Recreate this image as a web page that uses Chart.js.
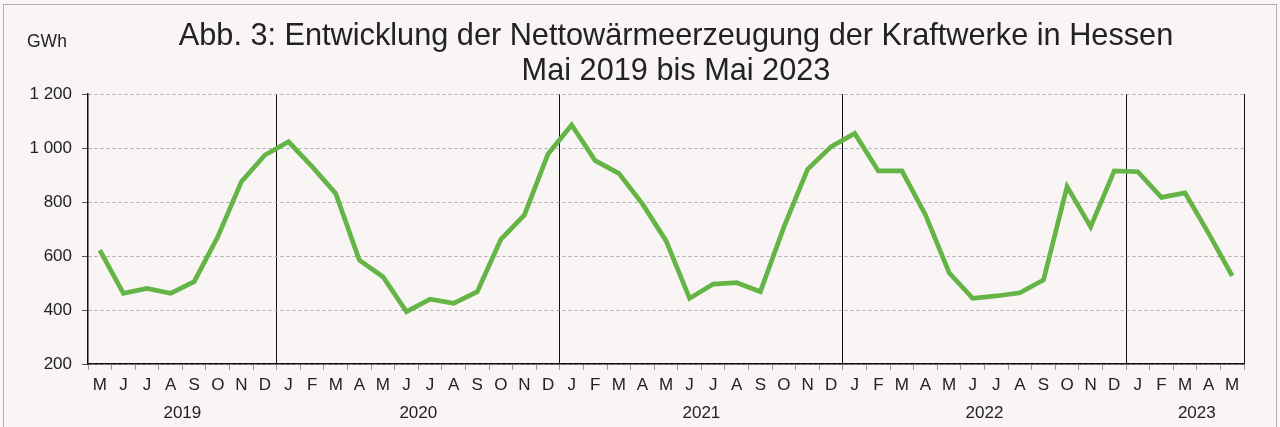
<!DOCTYPE html>
<html>
<head>
<meta charset="utf-8">
<script src="https://cdn.jsdelivr.net/npm/chart.js@4"></script>
<style>
    body{margin:0;background:#fff;}
    #wrap{position:relative;width:1280px;height:427px;background:#f8f5f4;overflow:hidden;}
    #frame{position:absolute;left:3px;top:4px;width:1274px;height:430px;border:1px solid #b4b0ae;box-sizing:border-box;}
    #chart{position:absolute;left:0;top:0;}
</style>
</head>
<body>
<div id="wrap">
    <div id="frame"></div>
    <canvas id="chart" width="1280" height="427"></canvas>
</div>
<script>
// Monthly values May 2019 .. May 2023 (GWh)
const monthLabels = [
    "M","J","J","A","S","O","N","D",
    "J","F","M","A","M","J","J","A","S","O","N","D",
    "J","F","M","A","M","J","J","A","S","O","N","D",
    "J","F","M","A","M","J","J","A","S","O","N","D",
    "J","F","M","A","M"
];
const years = ["2019","2020","2021","2022","2023"];
const yearStart = [0, 8, 20, 32, 44];   // index of first month of each year
const waerme = [
    622, 462, 480, 462, 505, 671, 875, 974,
    1023, 931, 832, 585, 523, 394, 440, 425, 468, 662, 752, 978,
    1085, 953, 906, 793, 657, 443, 496, 501, 468, 708, 921, 1005,
    1054, 915, 915, 752, 538, 443, 452, 464, 511, 857, 708, 915,
    912, 817, 834, 684, 526
];
const titleLines = ["Abb. 3: Entwicklung der Nettowärmeerzeugung der Kraftwerke in Hessen", "Mai 2019 bis Mai 2023"];
const unitLabel = "GWh";

const FONT = "Arial, 'Liberation Sans', sans-serif";
const TXT = "#222";

function fmtThousands(v){
    return String(v).replace(/\B(?=(\d{3})+(?!\d))/g, " ");
}

// January boundaries get a solid black gridline
function isJanuary(i){
    return yearStart.indexOf(i) > 0;
}

const textPlugin = {
    id: "texts",
    afterDraw(chart){
        const c = chart.ctx, x = chart.scales.x, area = chart.chartArea;
        c.save();
        c.fillStyle = TXT;
        c.textAlign = "center";
        c.textBaseline = "alphabetic";
        c.font = "30.7px " + FONT;
        const cx = (area.left + area.right)/2 + 10;
        c.fillText(titleLines[0], cx, 45);
        c.fillText(titleLines[1], cx, 80);

        c.textAlign = "left";
        c.font = "17.5px " + FONT;
        c.fillText(unitLabel, 27, 47);

        // year labels under the month letters
        c.textAlign = "center";
        c.textBaseline = "middle";
        c.font = "17px " + FONT;
        for(let i=0;i<years.length;i++){
            const s = yearStart[i];
            let e = (i<years.length-1 ? yearStart[i+1] : monthLabels.length) - 1;
            if(i===years.length-1) e += 1; // last, incomplete year is centred like the source
            const px = (x.getPixelForValue(s) + x.getPixelForValue(e))/2;
            c.fillText(years[i], px, 413);
        }
        c.restore();
    }
};

new Chart(document.getElementById("chart"), {
    type: "line",
    data: {
        labels: monthLabels,
        datasets: [{
            data: waerme,
            borderColor: "#64b446",
            borderWidth: 4.7,
            pointRadius: 0,
            tension: 0,
            fill: false
        }]
    },
    options: {
        responsive: false,
        animation: false,
        layout: {padding: {top: 94, right: 36, bottom: 0, left: 0}},
        plugins: {legend: {display: false}, tooltip: {enabled: false}},
        scales: {
            x: {
                offset: true,
                afterFit(scale){ scale.height = 63; },
                grid: {
                    offset: true,
                    drawOnChartArea: true,
                    color: ctx => (ctx.type !== "tick" || isJanuary(ctx.index)) ? "#111" : "rgba(0,0,0,0)",
                    lineWidth: 1,
                    tickColor: "#999",
                    tickLength: 6
                },
                border: {color: "#111", width: 1.5},
                ticks: {
                    autoSkip: false,
                    maxRotation: 0,
                    color: TXT,
                    padding: 5,
                    font: {family: FONT, size: 17}
                }
            },
            y: {
                min: 200,
                max: 1200,
                afterFit(scale){ scale.width = 88; },
                grid: {
                    color: "#aaa",
                    tickColor: "#555",
                    tickBorderDash: [],
                    tickLength: 6
                },
                border: {color: "#111", width: 1.5, dash: [3, 3]},
                ticks: {
                    stepSize: 200,
                    color: TXT,
                    padding: 10,
                    font: {family: FONT, size: 17},
                    callback: v => fmtThousands(v)
                }
            }
        }
    },
    plugins: [textPlugin]
});
</script>
</body>
</html>
